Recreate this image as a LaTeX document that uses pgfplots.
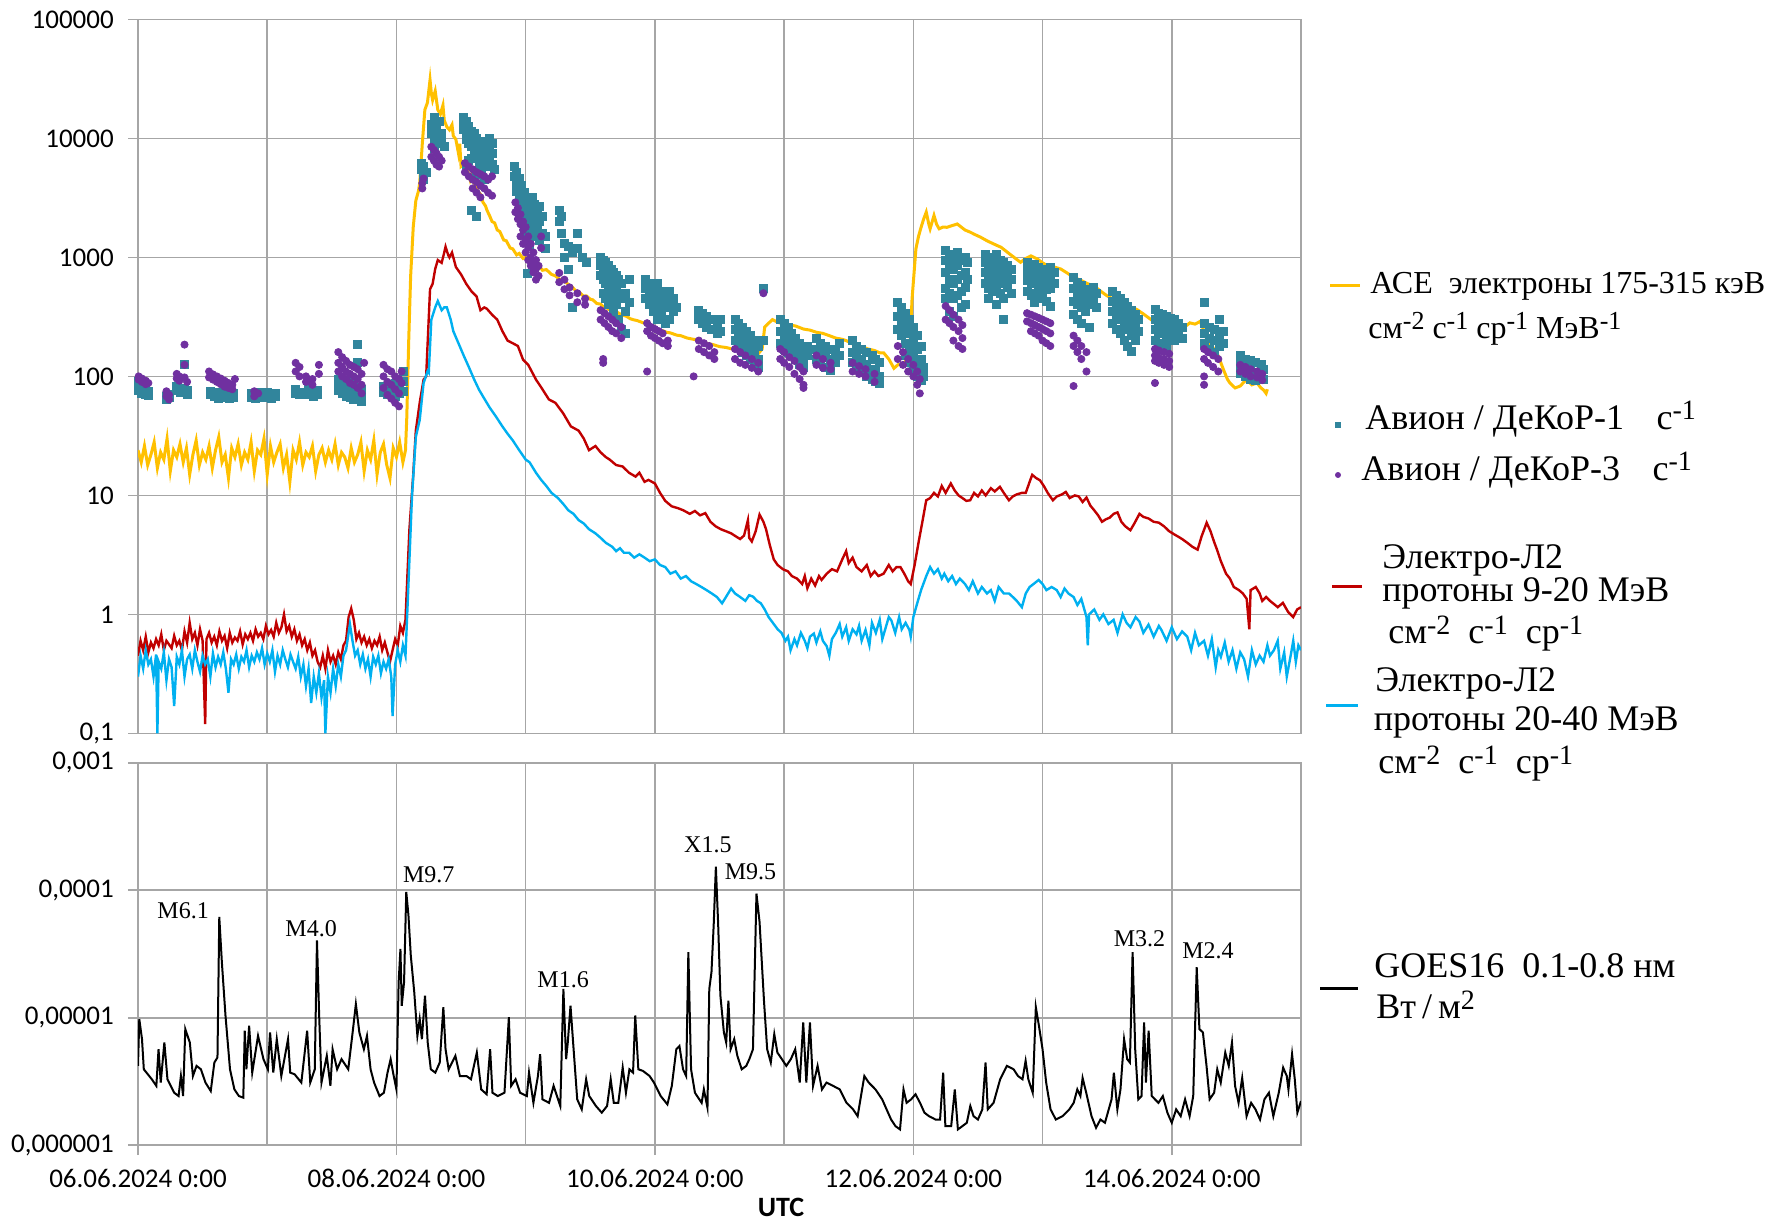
\documentclass[border=0pt]{standalone}
\usepackage{pgfplots}
\pgfplotsset{compat=1.18}
\usepackage{fontspec}
\setmainfont{Liberation Serif}
\newfontfamily\carlito{Carlito}
\definecolor{aceO}{HTML}{FFC000}
\definecolor{dkA}{HTML}{31859C}
\definecolor{dkB}{HTML}{7030A0}
\definecolor{elR}{HTML}{C00000}
\definecolor{elB}{HTML}{00B0F0}
\definecolor{gridc}{HTML}{A6A6A6}
\newcommand{\sups}[1]{\raisebox{0.55ex}{\fontsize{14}{14}\selectfont #1}}
\newcommand{\supa}[1]{\raisebox{0.55ex}{\fontsize{13}{13}\selectfont #1}}
\pgfplotsset{
  myaxisstyle/.style={
    scale only axis, width=581.5pt,
    xmin=0, xmax=9, enlargelimits=false,
    yminorticks=false,
    axis line style={gridc, line width=0.8pt},
    tick style={gridc, line width=0.8pt},
    tick align=outside, major tick length=5pt, minor tick length=0pt,
    ytick pos=left, xtick pos=bottom,
    tick label style={font=\carlito\fontsize{13.5}{13.5}\selectfont, black},
    yticklabel style={xshift=-3.6pt},
    xticklabel style={yshift=-3.5pt},
  }
}
\begin{document}
\begin{tikzpicture}
\path[use as bounding box] (0,0) rectangle (892.5pt,-613pt);
\begin{axis}[myaxisstyle, ymode=log,
  at={(69pt,-9.7pt)}, anchor=north west, height=357pt,
  ymin=0.1, ymax=100000,
  xtick={0,...,9}, xticklabels={},
  ytick={0.1,1,10,100,1000,10000,100000},
  yticklabels={{0,1},{1},{10},{100},{1000},{10000},{100000}},
  xmajorgrids=true, ymajorgrids=true, grid style={gridc, line width=0.8pt},
  x tick style={draw=none},
]
% ACE electrons
\addplot[aceO, line width=1.5pt] coordinates {
(0.000,24)(0.025,19)(0.05,26)(0.075,18)(0.1,22)(0.125,28)(0.15,17)(0.175,23)(0.2,20)(0.225,30)
(0.25,16)(0.275,24)(0.3,21)(0.325,27)(0.35,19)(0.375,25)(0.4,15)(0.425,22)(0.45,29)(0.475,18)
(0.5,23)(0.525,20)(0.55,26)(0.575,17)(0.6,24)(0.625,31)(0.65,19)(0.675,22)(0.7,14)(0.725,25)
(0.75,21)(0.775,27)(0.8,18)(0.825,23)(0.85,20)(0.875,28)(0.9,16)(0.925,24)(0.95,22)(0.975,30)
(1.0,15)(1.025,26)(1.05,19)(1.075,23)(1.1,27)(1.125,17)(1.15,22)(1.175,13)(1.2,24)(1.225,20)
(1.25,28)(1.275,18)(1.3,23)(1.325,21)(1.35,26)(1.375,16)(1.4,22)(1.425,25)(1.45,19)(1.475,24)
(1.5,20)(1.525,27)(1.55,18)(1.575,23)(1.6,21)(1.625,17)(1.65,25)(1.675,19)(1.7,22)(1.725,28)
(1.75,16)(1.775,24)(1.8,20)(1.825,29)(1.85,15)(1.875,23)(1.9,27)(1.925,18)(1.95,14)(1.975,25)
(2.0,21)(2.025,28)(2.05,19)(2.07,24)
(2.08,45)(2.095,200)(2.11,700)(2.13,1800)(2.15,3000)(2.17,3600)(2.18,4200)(2.20,9000)(2.22,17400)
(2.24,20000)(2.26,31000)(2.27,24000)(2.28,21000)(2.30,25000)(2.32,17400)(2.34,16000)(2.36,19000)
(2.37,14200)(2.39,12500)(2.41,11800)(2.43,13000)(2.44,10500)(2.46,9800)(2.48,7500)(2.49,9000)
(2.50,5800)(2.52,6000)(2.55,5400)(2.57,4500)(2.58,4900)(2.60,4200)(2.62,4000)(2.63,3600)(2.65,3400)
(2.67,2900)(2.69,2700)(2.70,2500)(2.72,2250)(2.74,2000)(2.76,1950)(2.78,1700)(2.80,1650)(2.83,1400)
(2.85,1380)(2.88,1200)(2.90,1180)(2.93,1050)(2.95,1080)(2.98,980)(3.00,1000)(3.03,920)(3.05,900)
(3.08,830)(3.10,860)(3.13,780)(3.16,790)(3.2,720)(3.23,700)(3.25,670)(3.28,640)(3.31,620)(3.34,580)
(3.36,565)(3.39,520)(3.42,505)(3.45,470)(3.47,475)(3.50,445)(3.52,440)(3.55,410)(3.58,405)(3.60,385)
(3.63,375)(3.66,355)(3.68,350)(3.71,345)(3.73,335)(3.76,325)(3.78,320)(3.81,305)(3.83,300)(3.86,295)
(3.88,290)(3.91,282)(3.93,278)(3.96,265)(3.98,260)(4.01,250)(4.04,245)(4.07,240)(4.09,235)(4.12,232)
(4.14,228)(4.17,222)(4.2,220)(4.25,210)(4.3,205)(4.35,200)(4.4,190)(4.45,185)(4.5,178)(4.55,175)
(4.6,170)(4.65,168)(4.7,166)(4.75,160)(4.8,155)(4.83,170)(4.85,260)(4.88,280)(4.91,300)(4.95,285)
(5.0,275)(5.05,270)(5.09,265)(5.15,250)(5.2,245)(5.25,235)(5.3,230)(5.35,220)(5.4,210)(5.45,205)
(5.48,200)(5.52,190)(5.56,180)(5.6,178)(5.65,170)(5.7,165)(5.74,158)(5.77,158)(5.81,140)(5.85,117)
(5.88,125)(5.93,130)(5.97,148)(5.99,445)(6.02,1180)(6.04,1500)(6.06,1790)(6.08,2100)(6.10,2400)
(6.12,1900)(6.13,1740)(6.16,2250)(6.18,1900)(6.20,1740)(6.23,1800)(6.26,1790)(6.30,1850)(6.34,1910)
(6.37,1800)(6.40,1700)(6.44,1630)(6.48,1550)(6.52,1480)(6.57,1380)(6.62,1300)(6.68,1215)(6.73,1100)
(6.78,1000)(6.83,910)(6.87,980)(6.91,1030)(6.96,970)(7.0,900)(7.04,850)(7.09,830)(7.14,800)(7.19,740)
(7.24,680)(7.3,640)(7.35,600)(7.40,575)(7.45,520)(7.50,475)(7.55,445)(7.60,415)(7.65,390)(7.69,380)
(7.73,365)(7.78,335)(7.84,300)(7.90,270)(7.96,248)(8.01,240)(8.07,232)(8.1,260)(8.14,282)(8.18,275)
(8.22,290)(8.25,240)(8.27,205)(8.31,180)(8.35,158)(8.38,130)(8.40,114)(8.43,95)(8.45,88)(8.49,80)
(8.53,83)(8.56,90)(8.58,94)(8.62,85)(8.66,88)(8.69,80)(8.71,77)(8.73,72)(8.74,78)
};
% Avion / DeKoR-1
\addplot[only marks, mark=square*, mark size=2pt, mark options={fill=dkA, draw=dkA}] coordinates {
(0.005,90)(0.005,82)(0.005,76)(0.03,85)(0.03,78)(0.03,72)(0.06,80)(0.06,74)(0.06,70)(0.08,75)(0.08,69)
(0.22,68)(0.22,64)(0.24,70)(0.24,66)
(0.30,82)(0.30,76)(0.33,78)(0.33,73)(0.36,125)(0.36,80)(0.36,74)(0.38,76)(0.38,71)
(0.56,75)(0.56,70)(0.59,72)(0.59,68)(0.62,74)(0.62,69)(0.62,65)(0.65,71)(0.65,66)(0.68,73)(0.68,68)
(0.71,70)(0.71,65)(0.74,72)(0.74,67)
(0.88,72)(0.88,67)(0.91,70)(0.91,65)(0.94,74)(0.94,68)(0.97,71)(0.97,66)(1.0,73)(1.0,67)(1.03,70)(1.03,65)(1.06,72)(1.06,68)
(1.22,78)(1.22,72)(1.25,74)(1.25,70)(1.32,90)(1.32,80)(1.32,70)(1.36,74)(1.36,68)(1.39,76)(1.39,70)
(1.55,95)(1.55,85)(1.55,76)(1.58,88)(1.58,80)(1.58,72)(1.61,82)(1.61,75)(1.61,68)(1.64,90)(1.64,78)(1.64,66)
(1.67,85)(1.67,74)(1.67,64)(1.70,185)(1.70,130)(1.70,80)(1.70,70)(1.73,78)(1.73,68)(1.73,62)
(1.90,82)(1.90,74)(1.93,78)(1.93,70)(1.96,85)(1.96,72)(1.99,88)(1.99,76)(1.99,68)(2.02,80)(2.02,72)(2.05,110)(2.05,90)(2.05,75)
(2.19,6200)(2.19,5500)(2.21,5800)(2.21,5000)(2.21,4500)(2.23,5200)
(2.27,13000)(2.27,11000)(2.29,15000)(2.29,10000)(2.29,8300)(2.31,12000)(2.31,9000)(2.33,14000)(2.33,10500)
(2.35,11000)(2.35,9500)(2.37,8500)
(2.52,15000)(2.52,13500)(2.52,12000)(2.54,14000)(2.54,11000)(2.54,9800)(2.54,6000)(2.56,12500)(2.56,10500)
(2.56,9000)(2.56,6500)(2.58,11500)(2.58,10000)(2.58,8500)(2.58,6800)(2.58,2500)(2.60,11000)(2.60,9500)
(2.60,8000)(2.60,7000)(2.62,10000)(2.62,9000)(2.62,7500)(2.62,5000)(2.62,2200)(2.64,9500)(2.64,8500)
(2.64,7200)(2.64,6000)(2.66,9000)(2.66,7800)(2.66,6500)(2.66,5500)(2.68,9500)(2.68,8000)(2.68,6800)
(2.68,4500)(2.70,9000)(2.70,7000)(2.70,5800)(2.72,10000)(2.72,8000)(2.72,6500)(2.74,9000)(2.74,7500)(2.74,6000)(2.76,5500)
(2.91,5800)(2.91,4800)(2.93,5200)(2.93,4200)(2.93,3600)(2.95,4600)(2.95,3800)(2.95,3000)(2.95,2400)
(2.97,4000)(2.97,3300)(2.97,2700)(2.99,3500)(2.99,2900)(2.99,2200)(2.99,1600)(3.01,3000)(3.01,2500)
(3.01,2000)(3.01,1400)(3.01,730)(3.03,2600)(3.03,2100)(3.03,1700)(3.03,1230)(3.05,3200)(3.05,2400)
(3.05,1900)(3.07,2800)(3.07,2200)(3.07,1500)(3.09,2500)(3.09,1800)(3.11,2700)(3.11,2000)(3.11,1400)
(3.13,2200)(3.13,1600)(3.15,1500)(3.15,1200)
(3.26,2500)(3.26,2000)(3.28,2200)(3.28,1600)(3.30,1300)(3.30,1000)(3.33,1230)(3.33,800)(3.36,1100)
(3.36,380)(3.40,1600)(3.40,1200)(3.44,1000)(3.47,900)
(3.58,1000)(3.58,850)(3.58,700)(3.60,950)(3.60,800)(3.60,650)(3.60,500)(3.62,900)(3.62,750)(3.62,600)
(3.62,450)(3.64,850)(3.64,700)(3.64,550)(3.64,400)(3.66,800)(3.66,650)(3.66,500)(3.68,750)(3.68,600)
(3.68,450)(3.68,350)(3.70,700)(3.70,550)(3.70,400)(3.72,650)(3.72,500)(3.72,300)(3.74,600)(3.74,450)
(3.74,250)(3.77,500)(3.77,350)(3.77,230)(3.80,650)(3.80,420)
(3.93,650)(3.93,550)(3.93,450)(3.96,600)(3.96,500)(3.96,400)(3.99,550)(3.99,450)(3.99,350)(4.02,600)
(4.02,480)(4.02,380)(4.02,300)(4.05,520)(4.05,420)(4.05,320)(4.08,480)(4.08,380)(4.08,280)(4.11,520)
(4.11,400)(4.11,300)(4.14,450)(4.14,350)(4.17,380)
(4.34,360)(4.34,300)(4.37,340)(4.37,280)(4.40,320)(4.40,260)(4.44,300)(4.44,250)(4.48,280)(4.48,230)(4.51,300)(4.51,240)
(4.62,300)(4.62,250)(4.62,200)(4.65,280)(4.65,230)(4.65,180)(4.68,260)(4.68,210)(4.68,160)(4.71,240)
(4.71,190)(4.71,150)(4.74,220)(4.74,170)(4.74,140)(4.77,200)(4.77,160)(4.77,130)(4.80,180)(4.80,140)
(4.80,120)(4.84,550)(4.84,200)
(4.97,300)(4.97,240)(4.97,190)(5.00,280)(5.00,220)(5.00,170)(5.03,260)(5.03,200)(5.03,160)(5.06,230)
(5.06,180)(5.06,150)(5.09,210)(5.09,170)(5.09,140)(5.12,190)(5.12,150)(5.12,125)(5.15,170)(5.15,140)
(5.15,120)(5.18,180)(5.18,150)
(5.25,210)(5.25,170)(5.25,140)(5.28,190)(5.28,160)(5.28,130)(5.32,180)(5.32,150)(5.32,120)(5.36,170)
(5.36,140)(5.36,112)(5.40,160)(5.40,130)(5.43,190)(5.43,150)
(5.53,200)(5.53,160)(5.53,130)(5.56,180)(5.56,150)(5.56,120)(5.60,170)(5.60,140)(5.60,110)(5.64,160)
(5.64,125)(5.64,100)(5.68,150)(5.68,115)(5.68,95)(5.71,140)(5.71,110)(5.71,90)(5.74,130)(5.74,100)(5.74,87)
(5.88,420)(5.88,320)(5.88,250)(5.91,380)(5.91,290)(5.91,220)(5.94,340)(5.94,260)(5.94,190)(5.94,150)
(5.97,300)(5.97,230)(5.97,170)(5.97,130)(6.00,260)(6.00,200)(6.00,150)(6.00,115)(6.03,220)(6.03,170)
(6.03,130)(6.03,100)(6.06,180)(6.06,140)(6.06,110)(6.06,93)(6.08,120)(6.08,100)
(6.25,1140)(6.25,950)(6.25,750)(6.25,550)(6.25,450)(6.28,1050)(6.28,850)(6.28,650)(6.28,500)(6.28,350)
(6.31,1000)(6.31,800)(6.31,600)(6.31,450)(6.31,320)(6.34,1100)(6.34,850)(6.34,650)(6.34,480)(6.37,950)
(6.37,700)(6.37,520)(6.37,380)(6.40,1000)(6.40,750)(6.40,560)(6.40,400)(6.42,900)(6.42,650)
(6.56,1070)(6.56,900)(6.56,750)(6.56,600)(6.58,1000)(6.58,850)(6.58,700)(6.58,550)(6.58,450)(6.61,950)
(6.61,800)(6.61,650)(6.61,520)(6.64,1050)(6.64,880)(6.64,720)(6.64,580)(6.64,400)(6.67,950)(6.67,780)
(6.67,640)(6.67,500)(6.70,900)(6.70,750)(6.70,600)(6.70,450)(6.70,300)(6.73,850)(6.73,700)(6.73,560)
(6.76,800)(6.76,650)(6.76,500)
(6.88,900)(6.88,760)(6.88,640)(6.88,520)(6.91,850)(6.91,720)(6.91,600)(6.91,480)(6.94,880)(6.94,740)
(6.94,620)(6.94,500)(6.94,420)(6.97,830)(6.97,700)(6.97,580)(6.97,470)(7.00,800)(7.00,670)(7.00,560)
(7.00,450)(7.03,780)(7.03,650)(7.03,540)(7.03,430)(7.06,820)(7.06,680)(7.06,550)(7.06,390)(7.09,750)(7.09,600)
(7.24,680)(7.24,550)(7.24,430)(7.24,330)(7.27,620)(7.27,500)(7.27,400)(7.27,300)(7.30,580)(7.30,470)
(7.30,380)(7.30,280)(7.33,540)(7.33,440)(7.33,350)(7.36,500)(7.36,400)(7.36,260)(7.39,560)(7.39,450)(7.42,500)(7.42,380)
(7.54,520)(7.54,430)(7.54,350)(7.54,280)(7.57,480)(7.57,400)(7.57,320)(7.57,250)(7.60,450)(7.60,370)
(7.60,300)(7.60,230)(7.63,420)(7.63,340)(7.63,270)(7.63,200)(7.66,390)(7.66,320)(7.66,250)(7.66,180)
(7.69,360)(7.69,290)(7.69,220)(7.69,163)(7.72,330)(7.72,260)(7.72,200)(7.74,300)(7.74,240)
(7.87,365)(7.87,300)(7.87,250)(7.87,200)(7.90,340)(7.90,290)(7.90,240)(7.90,190)(7.93,330)(7.93,280)
(7.93,230)(7.93,185)(7.96,320)(7.96,270)(7.96,220)(7.96,180)(7.99,310)(7.99,260)(7.99,210)(8.02,300)
(8.02,250)(8.02,200)(8.05,280)(8.05,230)(8.08,260)(8.08,210)
(8.25,420)(8.25,280)(8.25,230)(8.25,190)(8.29,260)(8.29,210)(8.29,170)(8.33,250)(8.33,200)(8.33,160)
(8.37,300)(8.37,220)(8.37,180)(8.40,240)(8.40,190)
(8.53,150)(8.53,125)(8.53,105)(8.57,140)(8.57,115)(8.57,100)(8.61,135)(8.61,110)(8.61,95)(8.65,130)
(8.65,108)(8.65,93)(8.69,125)(8.69,105)(8.71,115)(8.71,95)
};
% Avion / DeKoR-3
\addplot[only marks, mark=*, mark size=1.8pt, mark options={fill=dkB, draw=dkB}] coordinates {
(0.005,100)(0.005,94)(0.03,96)(0.03,90)(0.06,92)(0.06,86)(0.08,88)
(0.22,75)(0.22,68)(0.24,70)(0.24,64)
(0.30,105)(0.30,96)(0.32,100)(0.32,92)(0.36,185)(0.36,125)(0.36,98)(0.38,90)
(0.55,110)(0.55,98)(0.58,104)(0.58,94)(0.61,100)(0.61,90)(0.64,96)(0.64,86)(0.67,92)(0.67,82)(0.70,88)
(0.70,80)(0.73,85)(0.73,78)(0.75,95)
(0.90,75)(0.90,68)(0.93,72)
(1.22,130)(1.22,110)(1.25,120)(1.25,100)(1.30,100)(1.30,90)(1.35,95)(1.35,85)(1.40,125)(1.40,105)
(1.55,160)(1.55,130)(1.55,110)(1.58,145)(1.58,120)(1.58,100)(1.61,135)(1.61,110)(1.61,95)(1.64,125)
(1.64,105)(1.64,88)(1.67,120)(1.67,100)(1.67,85)(1.70,115)(1.70,95)(1.70,80)(1.73,105)(1.73,85)(1.73,72)(1.75,130)
(1.90,125)(1.90,100)(1.90,80)(1.93,115)(1.93,90)(1.93,70)(1.96,110)(1.96,85)(1.96,65)(1.99,100)(1.99,78)
(1.99,60)(2.02,95)(2.02,72)(2.02,56)(2.04,110)(2.04,88)
(2.20,4200)(2.20,3800)(2.21,4600)
(2.27,8500)(2.27,7000)(2.29,8000)(2.29,6500)(2.31,7500)(2.31,6000)(2.33,7000)(2.33,5800)(2.35,6500)
(2.53,6200)(2.53,5200)(2.56,5800)(2.56,4800)(2.59,5500)(2.59,4500)(2.59,3800)(2.62,5200)(2.62,4300)
(2.62,3500)(2.65,5000)(2.65,4000)(2.65,3200)(2.68,4800)(2.68,3800)(2.71,4500)(2.71,3500)(2.74,4800)(2.74,3300)
(2.92,2900)(2.92,2400)(2.94,2600)(2.94,2100)(2.96,2300)(2.96,1900)(2.96,1500)(2.98,2000)(2.98,1700)
(2.98,1300)(3.00,1800)(3.00,1400)(3.00,1100)(3.02,1500)(3.02,1200)(3.02,950)(3.04,1300)(3.04,1000)
(3.04,850)(3.06,1100)(3.06,900)(3.06,750)(3.08,950)(3.08,800)(3.08,650)(3.10,850)(3.10,700)(3.12,1500)(3.12,1200)
(3.26,740)(3.26,620)(3.30,650)(3.30,540)(3.34,560)(3.34,480)(3.40,500)(3.40,420)(3.46,450)(3.46,400)
(3.58,360)(3.58,300)(3.61,340)(3.61,280)(3.64,320)(3.64,260)(3.67,300)(3.67,240)(3.70,280)(3.70,230)
(3.74,260)(3.74,210)(3.60,140)(3.60,130)
(3.94,280)(3.94,240)(3.97,260)(3.97,220)(4.00,250)(4.00,210)(4.03,240)(4.03,200)(4.06,230)(4.06,190)
(4.10,200)(4.10,180)(3.94,110)
(4.30,100)
(4.34,200)(4.34,170)(4.38,190)(4.38,160)(4.42,180)(4.42,150)(4.46,160)(4.46,140)
(4.62,170)(4.62,140)(4.66,160)(4.66,130)(4.70,150)(4.70,125)(4.75,140)(4.75,118)(4.80,130)(4.80,110)(4.84,500)
(4.97,170)(4.97,140)(5.00,160)(5.00,130)(5.04,145)(5.04,120)(5.08,135)(5.08,105)(5.12,120)(5.12,95)
(5.15,110)(5.15,85)(5.15,80)
(5.25,150)(5.25,125)(5.30,140)(5.30,118)(5.36,130)(5.36,115)
(5.53,130)(5.53,110)(5.58,122)(5.58,105)(5.63,115)(5.63,100)(5.70,105)(5.70,90)
(5.88,180)(5.88,140)(5.92,160)(5.92,125)(5.96,140)(5.96,110)(6.00,125)(6.00,100)(6.03,110)(6.03,85)(6.05,95)(6.05,72)
(6.25,390)(6.25,300)(6.28,360)(6.28,280)(6.31,330)(6.31,260)(6.31,200)(6.35,300)(6.35,240)(6.35,180)
(6.38,270)(6.38,210)(6.38,170)
(6.88,340)(6.88,290)(6.91,330)(6.91,280)(6.91,240)(6.94,320)(6.94,270)(6.94,230)(6.97,310)(6.97,260)
(6.97,220)(7.00,300)(7.00,250)(7.00,200)(7.03,290)(7.03,240)(7.03,190)(7.06,280)(7.06,230)(7.06,180)
(7.24,220)(7.24,180)(7.27,200)(7.27,160)(7.30,180)(7.30,140)(7.34,160)(7.34,110)(7.24,83)
(7.87,170)(7.87,150)(7.87,135)(7.90,165)(7.90,145)(7.90,130)(7.94,160)(7.94,140)(7.94,125)(7.98,155)
(7.98,135)(7.98,120)(7.87,88)
(8.25,170)(8.25,140)(8.25,100)(8.25,85)(8.28,160)(8.28,130)(8.32,150)(8.32,120)(8.36,140)(8.36,110)
(8.53,125)(8.53,110)(8.57,120)(8.57,105)(8.61,115)(8.61,100)(8.66,110)(8.66,98)(8.70,105)(8.70,93)
};
% Electro-L2 9-20 MeV
\addplot[elR, line width=1.2pt] coordinates {
(0,0.45)(0.02,0.6)(0.04,0.5)(0.06,0.65)(0.08,0.48)(0.1,0.58)(0.12,0.52)(0.14,0.62)(0.16,0.55)(0.18,0.68)
(0.2,0.5)(0.22,0.6)(0.24,0.56)(0.26,0.52)(0.28,0.66)(0.3,0.55)(0.32,0.6)(0.34,0.5)(0.36,0.72)(0.38,0.58)
(0.40,0.85)(0.42,0.62)(0.44,0.7)(0.46,0.55)(0.48,0.75)(0.5,0.6)(0.52,0.12)(0.53,0.62)(0.55,0.7)(0.57,0.58)
(0.59,0.65)(0.61,0.55)(0.63,0.72)(0.65,0.6)(0.67,0.66)(0.69,0.52)(0.71,0.7)(0.73,0.58)(0.75,0.64)(0.77,0.6)
(0.79,0.72)(0.81,0.56)(0.83,0.68)(0.85,0.62)(0.87,0.7)(0.89,0.6)(0.91,0.75)(0.93,0.65)(0.95,0.7)(0.97,0.62)
(0.99,0.8)(1.01,0.68)(1.03,0.74)(1.05,0.65)(1.07,0.85)(1.09,0.7)(1.11,0.78)(1.13,1.0)(1.15,0.72)(1.17,0.8)
(1.19,0.65)(1.21,0.75)(1.23,0.6)(1.25,0.68)(1.27,0.55)(1.29,0.62)(1.31,0.5)(1.33,0.58)(1.35,0.45)(1.37,0.5)
(1.39,0.4)(1.41,0.36)(1.43,0.45)(1.45,0.35)(1.47,0.5)(1.49,0.4)(1.51,0.45)(1.53,0.38)(1.55,0.48)(1.57,0.42)
(1.59,0.55)(1.61,0.6)(1.63,0.95)(1.65,1.12)(1.67,0.9)(1.69,0.62)(1.71,0.7)(1.73,0.58)(1.75,0.65)(1.77,0.55)
(1.79,0.62)(1.81,0.52)(1.83,0.6)(1.85,0.55)(1.87,0.65)(1.89,0.5)(1.91,0.58)(1.93,0.48)(1.95,0.4)(1.97,0.5)
(1.99,0.62)(2.01,0.55)(2.03,0.8)(2.05,0.7)(2.07,0.9)
(2.1,5.1)(2.13,15)(2.15,35)(2.18,60)(2.21,94)(2.23,100)(2.26,540)(2.28,600)(2.30,800)(2.32,950)
(2.35,900)(2.37,1100)(2.38,1230)(2.40,1050)(2.41,1000)(2.43,1100)(2.46,830)(2.50,720)(2.54,600)
(2.58,520)(2.62,470)(2.65,360)(2.68,380)(2.70,370)(2.74,330)(2.78,300)(2.82,240)(2.86,200)(2.90,190)
(2.94,180)(2.98,138)(3.02,125)(3.08,94)(3.12,81)(3.18,64)(3.23,60)(3.29,49)(3.35,38)(3.41,35)
(3.45,30)(3.49,24)(3.54,26)(3.58,23)(3.62,21)(3.65,20)(3.70,18)(3.75,17.5)(3.80,15.5)(3.85,14.4)
(3.88,15.5)(3.92,13)(3.95,13.5)(4.0,12.6)(4.04,10.5)(4.08,9)(4.13,8.1)(4.18,7.8)(4.22,7.5)(4.27,7.0)
(4.31,7.4)(4.35,6.8)(4.39,7.1)(4.43,6.0)(4.47,5.5)(4.51,5.2)(4.55,5.0)(4.59,4.8)(4.63,4.5)(4.66,4.3)
(4.69,4.6)(4.72,6.2)(4.73,4.4)(4.75,4.1)(4.78,5.0)(4.81,6.9)(4.84,6.0)(4.86,5.2)(4.89,3.8)(4.92,2.9)
(4.95,2.6)(4.99,2.4)(5.03,2.3)(5.06,2.1)(5.1,2.0)(5.14,1.8)(5.16,2.1)(5.18,1.66)(5.21,2.0)(5.24,1.75)
(5.27,2.1)(5.29,1.95)(5.33,2.2)(5.37,2.4)(5.41,2.3)(5.45,2.9)(5.48,3.4)(5.5,2.7)(5.53,3.0)(5.56,2.5)
(5.6,2.3)(5.64,2.6)(5.67,2.1)(5.70,2.3)(5.73,2.1)(5.77,2.2)(5.81,2.6)(5.84,2.3)(5.87,2.5)(5.90,2.5)
(5.93,2.2)(5.96,1.9)(5.98,1.8)(6.01,2.6)(6.04,4.0)(6.07,6.0)(6.1,9.1)(6.13,9.5)(6.16,10.5)(6.19,9.8)
(6.22,12)(6.25,10.5)(6.29,12.6)(6.32,11)(6.35,10)(6.38,9.5)(6.41,9.0)(6.44,9.1)(6.47,10.5)(6.5,9.8)
(6.53,11)(6.56,10)(6.6,11.5)(6.63,10.8)(6.67,11.8)(6.7,10.5)(6.74,9.1)(6.77,9.8)(6.80,10.2)(6.84,10.5)
(6.87,10.5)(6.90,13)(6.92,14.9)(6.95,14)(6.98,13.4)(7.01,12)(7.04,10.5)(7.08,9.1)(7.11,9.8)(7.15,10.2)
(7.18,10.7)(7.21,9.5)(7.25,10.0)(7.28,9.8)(7.31,8.8)(7.34,9.6)(7.37,8.2)(7.40,7.5)(7.43,6.8)(7.46,6.0)
(7.49,6.3)(7.52,6.5)(7.55,7.0)(7.58,7.2)(7.61,6.0)(7.64,5.5)(7.68,5.1)(7.71,5.8)(7.75,7.0)(7.78,6.6)
(7.82,6.4)(7.86,6.0)(7.9,5.9)(7.94,5.5)(7.98,5.0)(8.02,4.7)(8.05,4.5)(8.08,4.3)(8.12,4.0)(8.16,3.7)
(8.2,3.5)(8.23,4.5)(8.26,5.5)(8.27,5.9)(8.30,5.0)(8.33,4.0)(8.35,3.5)(8.38,2.8)(8.42,2.2)(8.45,2.0)
(8.48,1.7)(8.52,1.6)(8.55,1.5)(8.58,1.35)(8.60,0.75)(8.61,1.6)(8.65,1.7)(8.68,1.5)(8.7,1.3)(8.73,1.4)
(8.76,1.3)(8.8,1.2)(8.82,1.15)(8.86,1.25)(8.9,1.05)(8.94,0.95)(8.97,1.1)(9.0,1.15)
};
% Electro-L2 20-40 MeV
\addplot[elB, line width=1.2pt] coordinates {
(0,0.3)(0.02,0.45)(0.04,0.35)(0.06,0.5)(0.08,0.38)(0.1,0.42)(0.12,0.3)(0.14,0.46)(0.15,0.1)(0.16,0.4)
(0.18,0.35)(0.2,0.48)(0.22,0.28)(0.24,0.42)(0.26,0.36)(0.28,0.17)(0.3,0.44)(0.32,0.38)(0.34,0.5)(0.36,0.3)
(0.38,0.42)(0.40,0.46)(0.42,0.35)(0.44,0.5)(0.46,0.4)(0.48,0.33)(0.5,0.45)(0.52,0.38)(0.54,0.42)(0.56,0.3)
(0.58,0.47)(0.6,0.36)(0.62,0.44)(0.64,0.38)(0.66,0.48)(0.68,0.35)(0.70,0.22)(0.72,0.42)(0.74,0.38)(0.76,0.46)
(0.78,0.35)(0.8,0.44)(0.82,0.4)(0.84,0.5)(0.86,0.36)(0.88,0.45)(0.9,0.4)(0.92,0.48)(0.94,0.42)(0.96,0.52)
(0.98,0.38)(1.0,0.47)(1.02,0.4)(1.04,0.5)(1.06,0.33)(1.08,0.45)(1.1,0.38)(1.12,0.5)(1.14,0.42)(1.16,0.36)
(1.18,0.46)(1.2,0.4)(1.22,0.35)(1.24,0.44)(1.26,0.3)(1.28,0.38)(1.30,0.25)(1.32,0.35)(1.34,0.18)(1.36,0.3)
(1.38,0.22)(1.40,0.32)(1.42,0.2)(1.44,0.28)(1.45,0.1)(1.47,0.3)(1.49,0.22)(1.51,0.35)(1.53,0.25)(1.55,0.38)
(1.57,0.3)(1.59,0.45)(1.61,0.5)(1.63,0.7)(1.64,0.83)(1.66,0.6)(1.68,0.45)(1.70,0.5)(1.72,0.38)(1.74,0.46)
(1.76,0.35)(1.78,0.42)(1.80,0.3)(1.82,0.44)(1.84,0.38)(1.86,0.45)(1.88,0.32)(1.90,0.4)(1.92,0.35)(1.94,0.42)
(1.96,0.3)(1.97,0.14)(1.99,0.38)(2.01,0.5)(2.03,0.4)(2.05,0.55)(2.07,0.45)
(2.09,1.5)(2.12,9.7)(2.15,31)(2.18,43)(2.21,88)(2.24,110)(2.25,107)(2.27,300)(2.30,380)(2.32,430)
(2.35,360)(2.37,380)(2.39,380)(2.42,300)(2.44,240)(2.48,190)(2.52,150)(2.56,120)(2.60,95)(2.64,77)
(2.68,65)(2.72,55)(2.77,46)(2.82,38)(2.86,33)(2.9,29)(2.95,24)(3.0,20)(3.03,19)(3.08,15.5)(3.12,13.5)
(3.16,12)(3.2,10.5)(3.25,9.5)(3.29,8.5)(3.33,7.5)(3.37,7.0)(3.41,6.2)(3.45,5.8)(3.49,5.2)(3.54,4.8)
(3.58,4.4)(3.62,4.0)(3.67,3.7)(3.7,3.4)(3.73,3.6)(3.76,3.3)(3.80,3.3)(3.84,3.0)(3.88,3.2)(3.92,3.0)
(3.96,2.8)(4.0,2.9)(4.04,2.6)(4.08,2.5)(4.12,2.2)(4.16,2.3)(4.2,2.0)(4.24,2.1)(4.28,1.9)(4.32,1.8)
(4.36,1.7)(4.4,1.6)(4.44,1.5)(4.48,1.4)(4.52,1.24)(4.55,1.4)(4.59,1.65)(4.62,1.5)(4.66,1.4)(4.7,1.3)
(4.73,1.45)(4.76,1.41)(4.79,1.3)(4.82,1.24)(4.85,1.1)(4.88,0.95)(4.92,0.83)(4.95,0.75)(4.98,0.7)(5.01,0.6)
(5.03,0.65)(5.05,0.5)(5.08,0.62)(5.1,0.55)(5.13,0.7)(5.16,0.6)(5.18,0.52)(5.2,0.65)(5.23,0.69)(5.25,0.58)
(5.28,0.72)(5.3,0.6)(5.33,0.54)(5.35,0.45)(5.37,0.62)(5.4,0.7)(5.43,0.83)(5.45,0.65)(5.48,0.78)(5.5,0.6)
(5.53,0.75)(5.56,0.68)(5.58,0.8)(5.6,0.6)(5.63,0.74)(5.66,0.55)(5.68,0.85)(5.71,0.7)(5.74,0.9)(5.76,0.62)
(5.79,0.8)(5.81,0.95)(5.83,0.89)(5.86,0.7)(5.89,0.95)(5.91,0.75)(5.94,0.85)(5.97,0.74)(5.98,0.65)(6.0,0.95)
(6.03,1.24)(6.06,1.6)(6.1,2.1)(6.13,2.5)(6.16,2.2)(6.19,2.4)(6.22,2.0)(6.24,2.2)(6.27,1.9)(6.3,2.1)
(6.33,1.8)(6.36,2.0)(6.4,1.8)(6.43,1.6)(6.46,1.9)(6.5,1.5)(6.53,1.7)(6.57,1.5)(6.6,1.6)(6.63,1.3)
(6.66,1.7)(6.7,1.5)(6.74,1.5)(6.77,1.4)(6.8,1.3)(6.84,1.15)(6.87,1.5)(6.9,1.7)(6.93,1.8)(6.97,1.95)
(7.0,1.8)(7.03,1.6)(7.07,1.7)(7.11,1.6)(7.14,1.4)(7.17,1.65)(7.2,1.5)(7.24,1.4)(7.27,1.2)(7.3,1.35)
(7.34,0.95)(7.35,0.55)(7.36,1.0)(7.4,1.1)(7.44,0.9)(7.47,1.0)(7.51,0.83)(7.55,0.9)(7.58,0.7)(7.62,1.0)
(7.65,0.85)(7.68,0.78)(7.72,0.95)(7.75,0.87)(7.78,0.7)(7.82,0.82)(7.86,0.65)(7.9,0.8)(7.92,0.74)(7.96,0.6)
(8.0,0.78)(8.04,0.62)(8.08,0.72)(8.12,0.65)(8.15,0.5)(8.18,0.7)(8.21,0.55)(8.25,0.6)(8.28,0.45)(8.31,0.62)
(8.34,0.36)(8.36,0.5)(8.38,0.44)(8.41,0.58)(8.44,0.4)(8.47,0.5)(8.5,0.35)(8.53,0.48)(8.56,0.42)(8.59,0.3)
(8.62,0.5)(8.65,0.38)(8.68,0.45)(8.71,0.4)(8.74,0.55)(8.76,0.45)(8.79,0.5)(8.82,0.6)(8.84,0.35)(8.87,0.48)
(8.89,0.3)(8.92,0.45)(8.94,0.6)(8.96,0.4)(8.98,0.55)(9.0,0.5)
};
\end{axis}

\begin{axis}[myaxisstyle, ymode=log,
  at={(69pt,-381.35pt)}, anchor=north west, height=191.25pt,
  ymin=1e-6, ymax=1e-3,
  xtick={0,2,4,6,8}, minor xtick={1,3,5,7,9},
  xticklabels={06.06.2024 0:00,08.06.2024 0:00,10.06.2024 0:00,12.06.2024 0:00,14.06.2024 0:00},
  ytick={1e-6,1e-5,1e-4,1e-3},
  yticklabels={{0,000001},{0,00001},{0,0001},{0,001}},
  xmajorgrids=true, xminorgrids=true, ymajorgrids=true, yminorgrids=false,
  major grid style={gridc, line width=0.8pt}, minor grid style={gridc, line width=0.8pt},
]
\addplot[black, line width=1pt] coordinates {
(0.000,4.19e-6)(0.010,9.75e-6)(0.031,6.79e-6)(0.045,3.94e-6)(0.107,3.29e-6)(0.142,2.92e-6)(0.159,5.66e-6)
(0.176,3.10e-6)(0.204,6.39e-6)(0.228,3.29e-6)(0.280,2.58e-6)(0.314,2.43e-6)(0.332,3.49e-6)(0.349,2.43e-6)
(0.366,8.14e-6)(0.401,6.39e-6)(0.425,3.49e-6)(0.453,4.19e-6)(0.487,3.94e-6)(0.522,3.10e-6)(0.563,2.66e-6)
(0.591,4.45e-6)(0.615,4.88e-6)(0.629,6.17e-5)(0.649,2.73e-5)(0.677,1.04e-5)(0.712,3.94e-6)(0.746,2.74e-6)
(0.781,2.43e-6)(0.815,2.36e-6)(0.826,7.91e-6)(0.839,3.94e-6)(0.860,8.65e-6)(0.884,3.71e-6)(0.929,7.21e-6)
(0.971,4.73e-6)(1.005,3.94e-6)(1.022,7.67e-6)(1.047,3.71e-6)(1.074,6.79e-6)(1.109,3.49e-6)(1.161,6.79e-6)
(1.178,3.71e-6)(1.212,3.60e-6)(1.264,3.10e-6)(1.309,7.91e-6)(1.333,3.10e-6)(1.368,3.94e-6)(1.385,4.04e-5)
(1.402,1.04e-5)(1.420,3.10e-6)(1.461,5.03e-6)(1.489,2.92e-6)(1.506,5.66e-6)(1.541,3.94e-6)(1.575,4.73e-6)
(1.627,3.94e-6)(1.661,7.67e-6)(1.686,1.28e-5)(1.713,7.67e-6)(1.748,5.66e-6)(1.772,7.21e-6)(1.800,3.94e-6)
(1.827,3.10e-6)(1.869,2.43e-6)(1.903,2.58e-6)(1.931,3.71e-6)(1.955,4.73e-6)(1.979,3.49e-6)(2.000,2.74e-6)
(2.017,1.90e-5)(2.031,3.47e-5)(2.041,1.24e-5)(2.059,1.90e-5)(2.076,9.70e-5)(2.093,6.35e-5)(2.111,3.08e-5)
(2.138,1.58e-5)(2.162,7.21e-6)(2.180,9.77e-6)(2.197,6.79e-6)(2.221,1.49e-5)(2.242,6.39e-6)(2.266,3.94e-6)
(2.301,3.71e-6)(2.335,4.45e-6)(2.363,1.21e-5)(2.380,5.66e-6)(2.404,3.94e-6)(2.456,5.03e-6)(2.491,3.49e-6)
(2.542,3.49e-6)(2.577,3.29e-6)(2.622,5.33e-6)(2.656,2.74e-6)(2.698,2.51e-6)(2.725,5.66e-6)(2.743,2.58e-6)
(2.784,2.43e-6)(2.836,2.58e-6)(2.870,1.01e-5)(2.888,2.92e-6)(2.922,3.29e-6)(2.957,2.58e-6)(3.009,2.43e-6)
(3.026,3.71e-6)(3.060,2.15e-6)(3.095,3.49e-6)(3.112,5.18e-6)(3.130,2.29e-6)(3.181,2.15e-6)(3.216,2.92e-6)
(3.268,2.03e-6)(3.292,1.68e-5)(3.313,4.73e-6)(3.326,6.39e-6)(3.347,1.24e-5)(3.371,5.66e-6)(3.399,2.29e-6)
(3.434,1.91e-6)(3.468,3.29e-6)(3.492,2.43e-6)(3.544,2.03e-6)(3.589,1.80e-6)(3.630,2.03e-6)(3.658,3.29e-6)
(3.682,2.15e-6)(3.717,2.15e-6)(3.751,4.06e-6)(3.776,2.58e-6)(3.803,3.94e-6)(3.831,3.71e-6)(3.848,1.04e-5)
(3.872,3.94e-6)(3.907,3.83e-6)(3.959,3.49e-6)(3.993,3.10e-6)(4.045,2.43e-6)(4.097,2.09e-6)(4.131,2.92e-6)
(4.166,5.66e-6)(4.190,6.0e-6)(4.218,3.94e-6)(4.242,3.49e-6)(4.259,3.27e-5)(4.280,3.94e-6)(4.310,2.58e-6)
(4.362,2.15e-6)(4.379,2.74e-6)(4.407,1.97e-6)(4.421,1.68e-5)(4.438,2.28e-5)(4.455,5.30e-5)(4.472,1.53e-4)
(4.490,5.30e-5)(4.507,1.49e-5)(4.534,7.67e-6)(4.552,6.39e-6)(4.569,1.36e-5)(4.586,5.66e-6)(4.614,6.79e-6)
(4.638,5.03e-6)(4.672,3.94e-6)(4.707,4.19e-6)(4.731,4.73e-6)(4.759,5.66e-6)(4.786,9.41e-5)(4.810,5.64e-5)
(4.845,1.32e-5)(4.869,5.66e-6)(4.897,4.45e-6)(4.924,7.44e-6)(4.948,5.33e-6)(4.983,4.73e-6)(5.017,4.19e-6)
(5.052,4.73e-6)(5.086,5.66e-6)(5.121,3.10e-6)(5.148,9.18e-6)(5.172,3.10e-6)(5.200,9.18e-6)(5.224,2.92e-6)
(5.259,4.19e-6)(5.293,2.74e-6)(5.328,3.10e-6)(5.379,2.92e-6)(5.431,2.74e-6)(5.483,2.15e-6)(5.534,1.91e-6)
(5.569,1.69e-6)(5.621,3.49e-6)(5.655,3.10e-6)(5.707,2.74e-6)(5.759,2.29e-6)(5.793,1.91e-6)(5.828,1.59e-6)
(5.862,1.41e-6)(5.897,1.33e-6)(5.924,2.74e-6)(5.948,2.15e-6)(5.983,2.29e-6)(6.017,2.51e-6)(6.052,2.15e-6)
(6.086,1.80e-6)(6.121,1.69e-6)(6.172,1.59e-6)(6.207,1.59e-6)(6.231,3.71e-6)(6.248,1.41e-6)(6.293,1.41e-6)
(6.321,2.74e-6)(6.345,1.33e-6)(6.379,1.41e-6)(6.414,1.50e-6)(6.441,2.03e-6)(6.466,1.69e-6)(6.500,1.59e-6)
(6.534,1.91e-6)(6.559,4.45e-6)(6.576,1.91e-6)(6.621,2.15e-6)(6.672,3.29e-6)(6.724,4.19e-6)(6.776,3.94e-6)
(6.810,3.49e-6)(6.845,3.29e-6)(6.869,4.59e-6)(6.890,3.29e-6)(6.924,2.58e-6)(6.948,1.21e-5)(6.972,8.65e-6)
(7.000,5.66e-6)(7.028,3.10e-6)(7.062,1.91e-6)(7.103,1.59e-6)(7.155,1.69e-6)(7.207,1.91e-6)(7.241,2.15e-6)
(7.269,2.74e-6)(7.293,2.43e-6)(7.310,3.37e-6)(7.338,2.58e-6)(7.379,1.69e-6)(7.414,1.37e-6)(7.448,1.59e-6)
(7.483,1.50e-6)(7.534,2.29e-6)(7.552,3.71e-6)(7.579,1.91e-6)(7.603,2.74e-6)(7.631,6.79e-6)(7.655,4.73e-6)
(7.676,4.45e-6)(7.697,3.27e-5)(7.717,5.66e-6)(7.741,2.29e-6)(7.766,2.43e-6)(7.786,9.18e-6)(7.800,3.10e-6)
(7.821,7.91e-6)(7.845,2.43e-6)(7.897,2.15e-6)(7.931,2.43e-6)(7.966,1.80e-6)(8.000,1.50e-6)(8.034,1.91e-6)
(8.069,1.69e-6)(8.103,2.29e-6)(8.138,1.69e-6)(8.166,2.43e-6)(8.193,2.49e-5)(8.214,8.14e-6)(8.241,7.67e-6)
(8.269,4.19e-6)(8.293,2.29e-6)(8.328,2.58e-6)(8.352,3.94e-6)(8.379,3.10e-6)(8.414,5.33e-6)(8.441,4.19e-6)
(8.466,6.39e-6)(8.490,2.92e-6)(8.517,2.15e-6)(8.545,3.37e-6)(8.579,1.69e-6)(8.614,2.15e-6)(8.648,1.91e-6)
(8.683,1.59e-6)(8.717,2.29e-6)(8.752,2.58e-6)(8.786,1.69e-6)(8.828,2.58e-6)(8.862,4.06e-6)(8.890,3.49e-6)
(8.903,2.74e-6)(8.931,5.18e-6)(8.952,3.29e-6)(8.972,1.80e-6)(9.000,2.22e-6)
};
\begin{scope}[every node/.style={font=\fontsize{12}{12}\selectfont, inner sep=0pt}]
\node at (axis cs:0.349,6.87e-5) {M6.1};
\node at (axis cs:1.34,5.0e-5) {M4.0};
\node at (axis cs:2.25,1.32e-4) {M9.7};
\node at (axis cs:3.29,2.0e-5) {M1.6};
\node at (axis cs:4.41,2.26e-4) {X1.5};
\node at (axis cs:4.74,1.39e-4) {M9.5};
\node at (axis cs:7.75,4.2e-5) {M3.2};
\node at (axis cs:8.28,3.33e-5) {M2.4};
\end{scope}
\end{axis}

\node[font=\carlito\bfseries\fontsize{14}{14}\selectfont] at (390.5pt,-603.5pt) {UTC};

% legend
\draw[aceO, line width=1.5pt] (665pt,-142.5pt) -- (680pt,-142.5pt);
\node[anchor=base west, inner sep=0pt, font=\fontsize{16}{16}\selectfont] at (685pt,-146.7pt) {АСЕ\ \ электроны 175-315 кэВ};
\node[anchor=base west, inner sep=0pt, font=\fontsize{16}{16}\selectfont] at (684pt,-169pt) {см\supa{-2} с\supa{-1} ср\supa{-1} МэВ\supa{-1}};

\fill[dkA] (667.3pt,-214.2pt) rectangle (670.7pt,-210.8pt);
\node[anchor=base west, inner sep=0pt, font=\fontsize{18}{18}\selectfont] at (682.5pt,-214.5pt) {Авион / ДеКоР-1\hspace{0.9em}с\sups{-1}};
\fill[dkB] (669pt,-237.5pt) circle (1.5pt);
\node[anchor=base west, inner sep=0pt, font=\fontsize{18}{18}\selectfont] at (680.5pt,-240pt) {Авион / ДеКоР-3\hspace{0.9em}с\sups{-1}};

\draw[elR, line width=1.5pt] (666pt,-293.3pt) -- (681pt,-293.3pt);
\node[anchor=base west, inner sep=0pt, font=\fontsize{18}{18}\selectfont] at (691pt,-284pt) {Электро-Л2};
\node[anchor=base west, inner sep=0pt, font=\fontsize{18}{18}\selectfont] at (691pt,-300.8pt) {протоны 9-20 МэВ};
\node[anchor=base west, inner sep=0pt, font=\fontsize{18}{18}\selectfont] at (694pt,-321.7pt) {см\sups{-2}\ \ с\sups{-1}\ \ ср\sups{-1}};

\draw[elB, line width=1.5pt] (663pt,-352.5pt) -- (679pt,-352.5pt);
\node[anchor=base west, inner sep=0pt, font=\fontsize{18}{18}\selectfont] at (687.5pt,-345.8pt) {Электро-Л2};
\node[anchor=base west, inner sep=0pt, font=\fontsize{18}{18}\selectfont] at (686.7pt,-365pt) {протоны 20-40 МэВ};
\node[anchor=base west, inner sep=0pt, font=\fontsize{18}{18}\selectfont] at (689pt,-386.7pt) {см\sups{-2}\ \ с\sups{-1}\ \ ср\sups{-1}};

\draw[black, line width=1.5pt] (660pt,-494pt) -- (679pt,-494pt);
\node[anchor=base west, inner sep=0pt, font=\fontsize{18}{18}\selectfont] at (687pt,-488.7pt) {GOES16\ \ 0.1-0.8 нм};
\node[anchor=base west, inner sep=0pt, font=\fontsize{18}{18}\selectfont] at (688pt,-509.2pt) {Вт\,/\,м\sups{2}};
\end{tikzpicture}
\end{document}
